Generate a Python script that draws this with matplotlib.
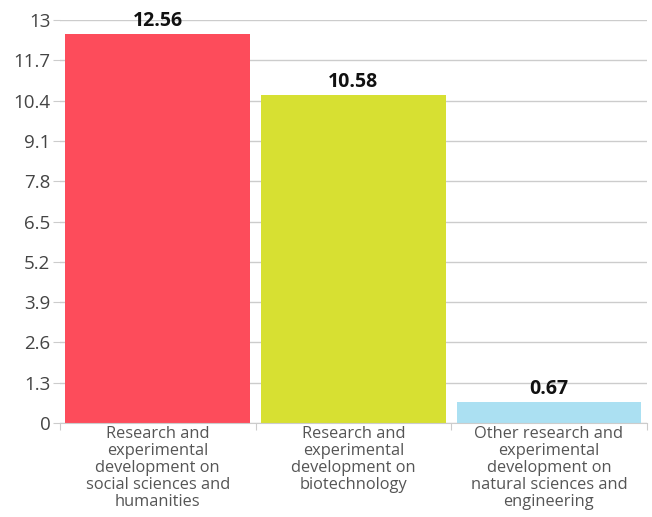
import matplotlib.pyplot as plt
import numpy as np

categories = [
    "Research and\nexperimental\ndevelopment on\nsocial sciences and\nhumanities",
    "Research and\nexperimental\ndevelopment on\nbiotechnology",
    "Other research and\nexperimental\ndevelopment on\nnatural sciences and\nengineering",
]
values = [12.56, 10.58, 0.67]
colors = ["#FD4C5B", "#D7E032", "#ABE0F2"]
yticks = [0, 1.3, 2.6, 3.9, 5.2, 6.5, 7.8, 9.1, 10.4, 11.7, 13]

plt.rcParams["font.family"] = ["Open Sans", "DejaVu Sans"]

fig = plt.figure(figsize=(6.52, 5.17), dpi=100)
ax = fig.add_axes([0.092, 0.182, 0.9, 0.779])

x = np.arange(len(values))
ax.bar(x, values, width=0.945, color=colors, zorder=2)
for xi, v in zip(x, values):
    ax.text(xi, v + 0.1, f"{v:.2f}", ha="center", va="bottom",
            fontsize=14, fontweight="bold", color="#111111", zorder=3)

ax.set_xlim(-0.5, 2.5)
ax.set_ylim(0, 13)
ax.set_yticks(yticks)
ax.set_yticklabels([f"{t:g}" for t in yticks], fontsize=13.5, color="#444444")
ax.yaxis.grid(True, color="#cccccc", linewidth=1, zorder=0)
ax.tick_params(axis="y", length=5, color="#cccccc", pad=2)

# category boundaries as x ticks, labels in between
ax.set_xticks([-0.5, 0.5, 1.5, 2.5])
ax.set_xticklabels([])
ax.set_xticks(x, minor=True)
ax.set_xticklabels(categories, minor=True, fontsize=11.8, color="#555555",
                   linespacing=1.1)
ax.tick_params(axis="x", which="major", length=5, color="#cccccc")
ax.tick_params(axis="x", which="minor", length=0, pad=2)

for s in ["top", "right", "left"]:
    ax.spines[s].set_visible(False)
ax.spines["bottom"].set_color("#cccccc")

fig.savefig("out.png", dpi=100)
